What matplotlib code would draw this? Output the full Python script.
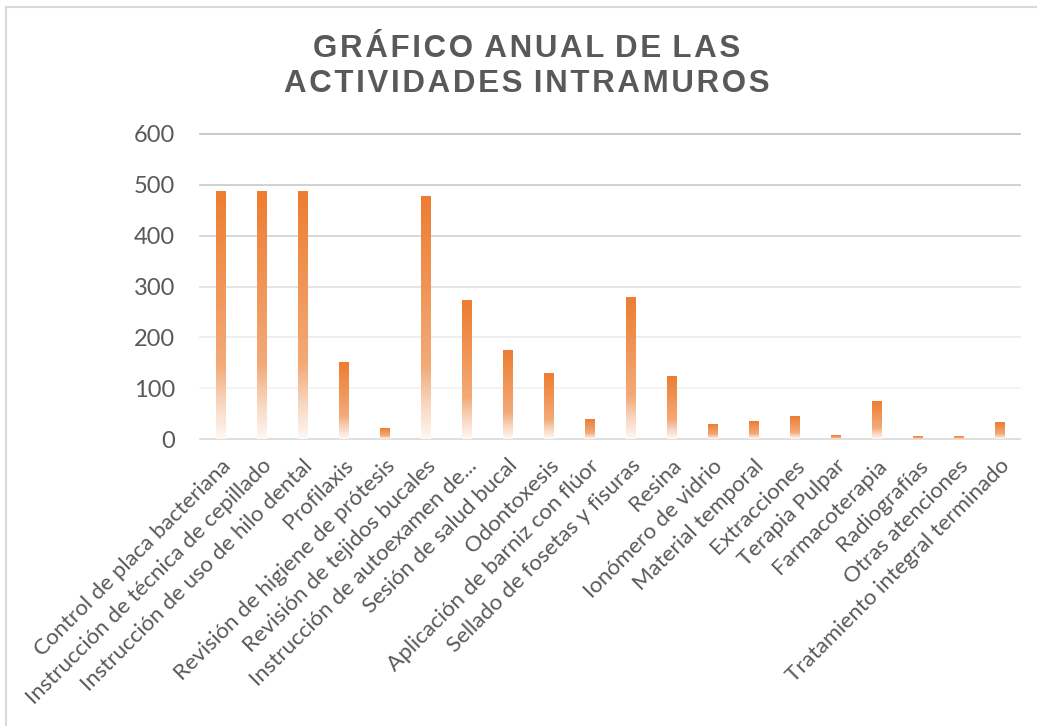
import matplotlib.pyplot as plt
import numpy as np
from matplotlib.colors import LinearSegmentedColormap

categorias = [
    "Control de placa bacteriana",
    "Instrucción de técnica de cepillado",
    "Instrucción de uso de hilo dental",
    "Profilaxis",
    "Revisión de higiene de prótesis",
    "Revisión de tejidos bucales",
    "Instrucción de autoexamen de...",
    "Sesión de salud bucal",
    "Odontoxesis",
    "Aplicación de barniz con flúor",
    "Sellado de fosetas y fisuras",
    "Resina",
    "Ionómero de vidrio",
    "Material temporal",
    "Extracciones",
    "Terapia Pulpar",
    "Farmacoterapia",
    "Radiografías",
    "Otras atenciones",
    "Tratamiento integral terminado",
]
valores = [486, 486, 486, 151, 20, 478, 273, 175, 129, 38,
           279, 123, 28, 34, 44, 7, 74, 5, 5, 32]
yticks = [0, 100, 200, 300, 400, 500, 600]
titulo = ["GRÁFICO ANUAL DE LAS", "ACTIVIDADES INTRAMUROS"]

fig = plt.figure(figsize=(10.37, 7.26), dpi=100)
ax = fig.add_axes([200 / 1037, 287 / 726, 820 / 1037, 305 / 726])

# degradado naranja -> blanco (arriba -> abajo)
cmap = LinearSegmentedColormap.from_list("naranja", [
    (0.0, (237/255, 125/255, 49/255)),
    (0.70, (243/255, 170/255, 120/255)),
    (0.86, (248/255, 215/255, 192/255)),
    (1.0, (254/255, 248/255, 244/255)),
])
grad = np.linspace(0, 1, 256).reshape(-1, 1)

ancho = 0.24
x = np.arange(len(categorias))
for xi, v in zip(x, valores):
    ax.imshow(grad, cmap=cmap, aspect="auto", interpolation="bilinear",
              extent=[xi - ancho / 2, xi + ancho / 2, 0, v], zorder=3)

ax.set_xlim(-0.5, len(categorias) - 0.5)
ax.set_ylim(0, 600)

# líneas de cuadrícula con tonos distintos
grises = {600: 0.75, 500: 0.79, 400: 0.82, 300: 0.88, 200: 0.92, 100: 0.95, 0: 0.85}
for t in yticks:
    g = grises[t]
    ax.axhline(t, color=(g, g, g), linewidth=1.2, zorder=1, clip_on=False)

for s in ax.spines.values():
    s.set_visible(False)

ax.set_yticks(yticks)
ax.set_yticklabels([str(t) for t in yticks], fontsize=17, color="#595959", fontfamily="Lato")
ax.tick_params(axis="y", length=0, pad=18)
ax.set_xticks(x)
ax.set_xticklabels(categorias, rotation=45, ha="right", rotation_mode="anchor",
                   fontsize=16, color="#595959", fontfamily="Lato")
ax.tick_params(axis="x", length=0, pad=12)

# título con espaciado entre letras
def espaciar(linea):
    return " \u200a".join("\u200a".join(p) for p in linea.split(" "))

fig.text(0.508, 0.908, "\n".join(espaciar(l) for l in titulo),
         ha="center", va="center", fontsize=22.5, fontweight="bold",
         color="#595959", fontfamily=["Liberation Sans", "DejaVu Sans"], linespacing=1.2)

# borde del área del gráfico
fig.add_artist(plt.Line2D([6 / 1037, 6 / 1037], [0, 1 - 7 / 726], color="#d9d9d9", linewidth=1.5))
fig.add_artist(plt.Line2D([6 / 1037, 1], [1 - 7 / 726, 1 - 7 / 726], color="#d9d9d9", linewidth=1.5))

plt.savefig("out.png", dpi=100)
